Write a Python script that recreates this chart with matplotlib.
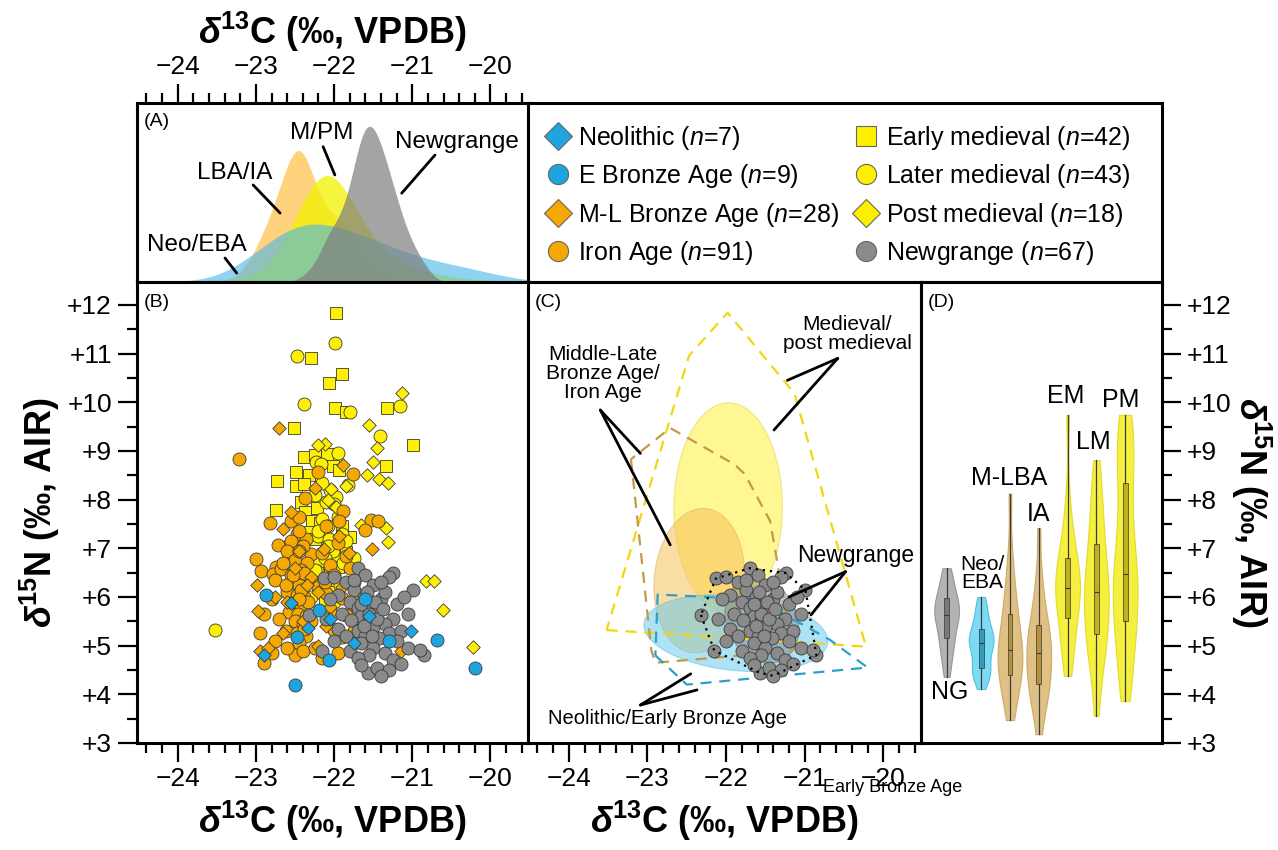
import numpy as np
import matplotlib
matplotlib.use("Agg")
import matplotlib.pyplot as plt
from matplotlib.patches import Ellipse
from matplotlib.lines import Line2D
from matplotlib.ticker import MultipleLocator, FuncFormatter

plt.rcParams['font.family'] = ['Liberation Sans', 'DejaVu Sans']
plt.rcParams['mathtext.fontset'] = 'custom'
plt.rcParams['mathtext.rm'] = 'Liberation Sans'
plt.rcParams['mathtext.it'] = 'Liberation Sans:italic'
plt.rcParams['mathtext.bf'] = 'Liberation Sans:bold'
plt.rcParams['mathtext.bfit'] = 'Liberation Sans:italic:bold'

# ---- data: d13C / d15N per group ----
neo_x = [-22.55, -22.33, -21.02, -22.90, -22.05, -21.55, -21.75]
neo_y = [5.87, 5.36, 5.30, 4.80, 5.55, 5.60, 5.05]

eba_x = [-22.87, -22.19, -22.50, -20.20, -20.68, -22.06, -22.47, -21.60, -21.30]
eba_y = [6.05, 5.73, 4.20, 4.55, 5.12, 4.70, 5.18, 5.95, 5.10]

mlba_x = [-22.71, -21.89, -22.25, -22.65, -21.94, -22.13, -21.81, -21.51, -22.99, -22.97,
          -21.15, -22.95, -22.85, -22.50, -22.30, -22.60, -22.40, -22.20, -22.75, -22.10,
          -21.90, -22.45, -22.55, -22.35, -22.05, -22.65, -22.20, -21.70]
mlba_y = [9.47, 8.72, 8.23, 7.39, 7.25, 6.98, 6.91, 6.98, 6.24, 5.72,
          4.90, 4.90, 4.95, 6.60, 6.40, 5.90, 5.50, 6.10, 6.00, 5.40,
          6.20, 6.95, 7.75, 6.25, 5.80, 5.25, 5.00, 5.75]

ia_x = [-23.21, -22.21, -21.76, -22.37, -21.88, -21.94, -22.82, -22.55, -21.53, -21.44,
        -21.61, -22.48, -22.36, -22.72, -22.42, -22.58, -22.29, -23.00, -22.74, -22.93,
        -22.78, -22.68,
        -22.45, -22.10, -22.55,
        -22.40, -21.95, -22.60, -22.15,
        -22.50, -22.35, -22.05, -22.65, -22.42, -21.80,
        -22.55, -22.40, -22.30, -22.00, -22.75, -22.45, -21.75, -22.20,
        -22.60, -22.48, -22.38, -22.10, -21.90, -22.80, -22.52, -21.70, -22.42, -22.33,
        -22.58, -22.46, -22.36, -22.05, -22.70, -21.85, -22.50, -22.40, -22.90, -21.65,
        -22.62, -22.48, -22.36, -22.00, -22.75, -21.90, -22.45, -22.95, -21.75,
        -22.80, -22.50, -22.40, -22.15, -22.90, -21.95, -22.60,
        -22.45, -22.38, -22.42, -22.30, -22.45, -22.12, -22.62, -22.38, -22.52, -21.85,
        -22.45, -22.25]
ia_y = [8.83, 8.56, 8.52, 8.04, 7.77, 7.56, 7.51, 7.56, 7.58, 7.56,
        7.37, 7.29, 7.20, 7.07, 7.00, 6.86, 6.89, 6.79, 6.62, 6.54,
        6.47, 6.57,
        7.35, 7.45, 7.15,
        7.05, 7.10, 6.95, 6.90,
        6.75, 6.70, 6.65, 6.70, 6.55, 6.60,
        6.45, 6.40, 6.35, 6.45, 6.35, 6.25, 6.30, 6.20,
        6.10, 6.05, 6.00, 6.08, 5.98, 5.95, 5.88, 6.05, 5.80, 5.90,
        5.70, 5.65, 5.60, 5.72, 5.55, 5.62, 5.50, 5.45, 5.65, 5.55,
        5.30, 5.25, 5.20, 5.32, 5.10, 5.18, 5.05, 5.25, 5.30,
        4.85, 4.80, 4.90, 4.75, 4.65, 4.85, 4.95,
        6.95, 6.50, 6.15, 5.50, 5.95, 6.30, 6.25, 5.35, 6.45, 6.85,
        7.65, 4.95]

em_x = [-21.98, -22.29, -21.90, -22.07, -21.99, -21.85, -21.32, -22.51, -20.99, -22.38,
        -22.24, -22.09, -21.34, -22.02, -21.94, -22.49, -22.32, -22.73, -22.49, -22.39,
        -22.42, -22.22, -22.37, -22.74, -22.28, -22.15, -22.31, -21.80,
        -22.10, -22.00, -22.20, -21.95, -22.08, -22.25, -22.02, -21.85, -22.15, -22.05,
        -21.90, -22.18, -22.05, -22.12]
em_y = [11.84, 10.91, 10.59, 10.39, 9.89, 9.80, 9.89, 9.47, 9.12, 8.87,
        8.91, 8.93, 8.69, 8.69, 8.61, 8.56, 8.50, 8.39, 8.28, 8.32,
        7.95, 7.82, 7.75, 7.78, 7.56, 7.42, 7.34, 7.24,
        7.02, 6.80, 6.70, 6.62, 6.30, 7.20, 7.10, 6.92, 6.50, 6.10,
        7.45, 7.52, 6.45, 5.92]

lm_x = [-21.99, -22.47, -22.39, -21.80, -21.16, -21.41, -22.21, -22.06, -22.58, -22.22,
        -23.52, -22.23, -22.17, -21.82,
        -22.05, -21.98, -22.10, -22.00, -22.15, -21.95, -22.08, -21.90, -22.20, -22.02,
        -22.12, -21.88, -22.25, -22.05, -21.92, -22.18, -22.30, -22.00, -22.10, -22.35,
        -21.80, -22.40, -22.00, -21.75, -22.15, -21.95, -22.25, -21.85, -22.08]
lm_y = [11.22, 10.96, 9.96, 9.80, 9.93, 9.30, 7.25, 7.20, 7.07, 6.54,
        5.32, 8.78, 8.74, 8.30,
        8.20, 8.05, 7.95, 7.90, 7.60, 7.65, 7.45, 7.30, 7.35, 6.95,
        6.80, 6.70, 6.55, 6.40, 6.25, 6.15, 6.00, 5.90, 5.70, 5.50,
        5.60, 5.80, 5.35, 6.80, 8.35, 8.95, 8.10, 7.15, 7.05]

pm_x = [-21.13, -21.55, -22.11, -22.21, -21.45, -21.50, -21.58, -21.43, -21.31, -21.85,
        -22.04, -22.08, -21.97, -21.65, -21.34, -21.31, -20.82, -20.72, -20.61, -20.22]
pm_y = [10.18, 9.54, 9.15, 9.12, 9.05, 8.78, 8.51, 8.42, 8.35, 8.28,
        8.21, 8.00, 7.85, 7.48, 7.42, 7.13, 6.33, 6.33, 5.73, 4.98]

ng_x = [-22.13, -22.00, -21.70, -21.60, -21.24, -21.30, -21.85, -21.50, -20.99, -21.75,
        -21.95, -21.62, -21.40, -21.20, -21.80, -22.05, -21.55, -21.35, -21.10, -21.70,
        -22.32, -21.90, -21.65, -21.45, -21.25, -21.05, -21.78, -21.55, -22.10, -21.35,
        -21.95, -21.70, -21.50, -21.30, -21.60, -21.85, -21.15, -22.00, -21.42, -21.20,
        -21.65, -21.50, -21.80, -21.35, -21.55, -21.05, -20.85, -20.90, -21.70, -21.25,
        -21.57, -21.45, -21.65, -21.30, -21.40, -22.15, -21.15,
        -21.55, -21.48, -21.62, -21.75, -21.40, -21.58, -21.65, -21.45, -21.52, -21.38]
ng_y = [6.38, 6.40, 6.59, 6.45, 6.49, 6.42, 6.30, 6.25, 6.14, 6.15,
        6.05, 6.00, 5.95, 5.85, 5.90, 5.95, 5.82, 6.10, 6.00, 5.78,
        5.63, 5.65, 5.60, 5.70, 5.55, 5.65, 5.52, 5.50, 5.55, 5.45,
        5.35, 5.30, 5.38, 5.25, 5.20, 5.20, 5.30, 5.10, 5.15, 5.10,
        5.05, 4.95, 4.90, 4.85, 4.80, 4.95, 4.81, 4.92, 4.75, 4.70,
        4.44, 4.55, 4.60, 4.50, 4.38, 4.90, 4.62,
        5.65, 5.90, 5.40, 6.35, 6.30, 6.10, 5.85, 5.55, 5.20, 5.75]

# ---- panel D: d15N samples behind each violin ----
viol_labels = ["NG", "Neo/\nEBA", "M-LBA", "IA", "EM", "LM", "PM"]
viol_pos = [0, 1.2, 2.2, 3.2, 4.2, 5.2, 6.2]
viol_ng = [4.36, 4.60, 4.80, 4.95, 5.05, 5.16, 5.30, 5.40, 5.50, 5.58, 5.63,
           5.70, 5.75, 5.80, 5.90, 5.98, 6.05, 6.15, 6.30, 6.45, 6.59]
viol_neo = [4.11, 4.30, 4.40, 4.45, 4.50, 4.55, 4.70, 4.85, 4.95, 5.00, 5.06,
            5.10, 5.15, 5.20, 5.28, 5.34, 5.45, 5.60, 5.70, 5.85, 6.00]
viol_mlba = [3.47, 3.80, 4.00, 4.15, 4.30, 4.40, 4.55, 4.65, 4.75, 4.85, 4.92,
             5.00, 5.15, 5.30, 5.50, 5.66, 5.85, 6.10, 6.40, 6.90, 8.12]
viol_ia = [3.18, 3.60, 3.85, 4.00, 4.10, 4.21, 4.35, 4.50, 4.60, 4.75, 4.85,
           4.95, 5.05, 5.15, 5.30, 5.42, 5.60, 5.80, 6.10, 6.50, 7.41]
viol_em = [4.38, 4.70, 4.95, 5.15, 5.35, 5.57, 5.75, 5.90, 6.00, 6.10, 6.19,
           6.28, 6.38, 6.48, 6.60, 6.81, 6.95, 7.15, 7.45, 8.00, 9.74]
viol_lm = [3.56, 4.30, 4.70, 4.90, 5.05, 5.23, 5.45, 5.65, 5.80, 5.95, 6.11,
           6.25, 6.40, 6.55, 6.80, 7.09, 7.30, 7.60, 7.95, 8.30, 8.81]
viol_pm = [3.86, 4.30, 4.70, 5.00, 5.30, 5.51, 5.75, 6.00, 6.20, 6.35, 6.48,
           6.70, 7.00, 7.40, 7.90, 8.35, 8.70, 9.00, 9.30, 9.55, 9.74]

BLUE, ORANGE, YELLOW, GREY = "#1ea5e0", "#f5a900", "#fff000", "#8a8a8a"
XLIM = (-24.52, -19.52)
YLIM = (3, 12.47)


def kde(vals, grid, adjust=1.0):
    vals = np.asarray(vals)
    bw = vals.std(ddof=1) * len(vals) ** (-1 / 5) * adjust
    z = (grid[:, None] - vals[None, :]) / bw
    return np.exp(-0.5 * z ** 2).sum(axis=1) / (len(vals) * bw * np.sqrt(2 * np.pi))


def convex_hull(xs, ys):
    pts = sorted(set(zip(xs, ys)))

    def cross(o, a, b):
        return (a[0] - o[0]) * (b[1] - o[1]) - (a[1] - o[1]) * (b[0] - o[0])

    lower, upper = [], []
    for p in pts:
        while len(lower) >= 2 and cross(lower[-2], lower[-1], p) <= 0:
            lower.pop()
        lower.append(p)
    for p in reversed(pts):
        while len(upper) >= 2 and cross(upper[-2], upper[-1], p) <= 0:
            upper.pop()
        upper.append(p)
    h = lower[:-1] + upper[:-1]
    h.append(h[0])
    return np.array(h)


def cov_ellipse(xs, ys, n_std, **kw):
    vals, vecs = np.linalg.eigh(np.cov(xs, ys))
    order = vals.argsort()[::-1]
    vals, vecs = vals[order], vecs[:, order]
    angle = np.degrees(np.arctan2(vecs[1, 0], vecs[0, 0]))
    w, h = 2 * n_std * np.sqrt(vals)
    return Ellipse((np.mean(xs), np.mean(ys)), w, h, angle=angle, **kw)


def style_spines(ax):
    for s in ax.spines.values():
        s.set_linewidth(2.2)


fig = plt.figure(figsize=(12.78, 8.5), dpi=100)


def box(l, t, r, b):
    return [l / 1278, 1 - b / 850, (r - l) / 1278, (b - t) / 850]


axA = fig.add_axes(box(137, 103, 528, 282))
axL = fig.add_axes(box(528, 103, 1162, 282))
axB = fig.add_axes(box(137, 282, 528, 743))
axC = fig.add_axes(box(528, 282, 921, 743))
axD = fig.add_axes(box(921, 282, 1162, 743))
for ax in (axA, axL, axB, axC, axD):
    style_spines(ax)

xlab = r"$\mathbfit{\delta}^{\mathbf{13}}$C (‰, VPDB)"
ylab = r"$\mathbfit{\delta}^{\mathbf{15}}$N (‰, AIR)"
plus_fmt = FuncFormatter(lambda v, p: f"+{v:g}")


def x_ticks(ax, top=False):
    ax.set_xlim(*XLIM)
    ax.xaxis.set_major_locator(MultipleLocator(1))
    ax.xaxis.set_minor_locator(MultipleLocator(0.2))
    ax.tick_params(axis='x', which='major', length=14, width=1.6, labelsize=19, pad=3,
                   top=top, bottom=not top, labeltop=top, labelbottom=not top)
    ax.tick_params(axis='x', which='minor', length=7, width=1.6, top=top, bottom=not top)


def y_ticks(ax, right=False):
    ax.set_ylim(*YLIM)
    ax.yaxis.set_major_locator(MultipleLocator(1))
    ax.yaxis.set_minor_locator(MultipleLocator(0.5))
    ax.yaxis.set_major_formatter(plus_fmt)
    ax.tick_params(axis='y', which='major', length=14, width=1.6, labelsize=19, pad=4,
                   left=not right, right=right, labelleft=not right, labelright=right)
    ax.tick_params(axis='y', which='minor', length=7, width=1.6, left=not right, right=right)


# ---- panel A: d13C densities ----
grid = np.linspace(XLIM[0], XLIM[1], 600)
dens_lia = kde(mlba_x + ia_x, grid, 1.15)
dens_mpm = kde(em_x + lm_x + pm_x, grid, 1.8)
dens_neo = kde(neo_x + eba_x, grid, 1.0)
dens_ng = kde(ng_x, grid, 0.9)
axA.fill_between(grid, dens_lia, color="#ffb526", alpha=0.6, lw=0)
axA.fill_between(grid, dens_mpm, color="#f2f200", alpha=0.75, lw=0)
axA.fill_between(grid, dens_neo, color="#46b6e8", alpha=0.6, lw=0)
axA.fill_between(grid, dens_ng, color="#7e7e7e", alpha=0.7, lw=0)
axA.set_ylim(0, dens_ng.max() / 0.87)
x_ticks(axA, top=True)
axA.set_yticks([])
axA.xaxis.set_label_position('top')
axA.set_xlabel(xlab, fontsize=26, fontweight='bold', labelpad=8)

line_kw = dict(arrowprops=dict(arrowstyle='-', lw=2, color='black', shrinkA=0, shrinkB=0))
for txt, tpos, start, end in [
        ("M/PM", (0.472, 0.830), (0.476, 0.756), (0.506, 0.598)),
        ("LBA/IA", (0.251, 0.609), (0.297, 0.542), (0.366, 0.385)),
        ("Newgrange", (0.818, 0.784), (0.762, 0.709), (0.677, 0.496)),
        ("Neo/EBA", (0.153, 0.207), (0.225, 0.134), (0.255, 0.050))]:
    axA.text(*tpos, txt, transform=axA.transAxes, ha='center', va='center', fontsize=17.5)
    axA.annotate("", xy=end, xytext=start, xycoords='axes fraction', **line_kw)
axA.text(0.016, 0.945, "(A)", transform=axA.transAxes, ha='left', va='top', fontsize=14)

# ---- legend box ----
axL.set_xticks([])
axL.set_yticks([])
legend_items = [
    ("D", 14, BLUE, r"Neolithic ($\it{n}$=7)"),
    ("o", 14.5, BLUE, r"E Bronze Age ($\it{n}$=9)"),
    ("D", 14, ORANGE, r"M-L Bronze Age ($\it{n}$=28)"),
    ("o", 14.5, ORANGE, r"Iron Age ($\it{n}$=91)"),
    ("s", 14, YELLOW, r"Early medieval ($\it{n}$=42)"),
    ("o", 14.5, YELLOW, r"Later medieval ($\it{n}$=43)"),
    ("D", 14, YELLOW, r"Post medieval ($\it{n}$=18)"),
    ("o", 14.5, GREY, r"Newgrange ($\it{n}$=67)"),
]
handles = [Line2D([], [], ls='none', marker=m, ms=ms, mfc=c, mec='#666666', mew=0.8, label=l)
           for m, ms, c, l in legend_items]
axL.legend(handles=handles, ncol=2, loc='upper left', bbox_to_anchor=(0.0276, 0.885),
           frameon=False, fontsize=18, handlelength=1.0, handletextpad=0.3,
           columnspacing=0.58, labelspacing=0.42, borderpad=0, borderaxespad=0)

# ---- panel B: scatter ----
sc_kw = dict(edgecolors='#3a3a3a', linewidths=0.6, zorder=3)
axB.scatter(em_x, em_y, s=74, marker='s', c=YELLOW, **sc_kw)
axB.scatter(lm_x, lm_y, s=88, marker='o', c=YELLOW, **sc_kw)
axB.scatter(pm_x, pm_y, s=47, marker='D', c=YELLOW, **sc_kw)
axB.scatter(ia_x, ia_y, s=88, marker='o', c=ORANGE, **sc_kw)
axB.scatter(mlba_x, mlba_y, s=47, marker='D', c=ORANGE, **sc_kw)
axB.scatter(ng_x, ng_y, s=88, marker='o', c=GREY, **sc_kw)
axB.scatter(neo_x, neo_y, s=47, marker='D', c=BLUE, **sc_kw)
axB.scatter(eba_x, eba_y, s=88, marker='o', c=BLUE, **sc_kw)
x_ticks(axB)
y_ticks(axB)
axB.set_xlabel(xlab, fontsize=26, fontweight='bold', labelpad=6)
axB.set_ylabel(ylab, fontsize=26, fontweight='bold', labelpad=4)
axB.text(0.016, 0.975, "(B)", transform=axB.transAxes, ha='left', va='top', fontsize=14)

# ---- panel C: ellipses + hulls ----
med_x, med_y = em_x + lm_x + pm_x, em_y + lm_y + pm_y
lia_x, lia_y = mlba_x + ia_x, mlba_y + ia_y
ne_x, ne_y = neo_x + eba_x, neo_y + eba_y
N_STD = 1.5
axC.add_patch(cov_ellipse(med_x, med_y, N_STD, fc="#fff34d", ec="#e6d84a", alpha=0.6, lw=0.8))
axC.add_patch(cov_ellipse(lia_x, lia_y, N_STD, fc="#f7c15a", ec="#e0b060", alpha=0.55, lw=0.8))
axC.add_patch(cov_ellipse(ne_x, ne_y, N_STD, fc="#5ec8ef", ec="#5ab8e0", alpha=0.5, lw=0.8))
axC.add_patch(cov_ellipse(ng_x, ng_y, N_STD, fc="#7a7a7a", ec="#707070", alpha=0.45, lw=0.8))
for hx, hy, col, dash in [(med_x, med_y, "#f2d70f", (5, 3.5)),
                           (lia_x, lia_y, "#c49a45", (5, 3.5)),
                           (ne_x, ne_y, "#2aa0c8", (5, 3.5))]:
    h = convex_hull(hx, hy)
    axC.plot(h[:, 0], h[:, 1], color=col, lw=1.6, dashes=dash, zorder=2)
axC.scatter(ng_x, ng_y, s=88, marker='o', c=GREY, **sc_kw)
h = convex_hull(ng_x, ng_y)
axC.plot(h[:, 0], h[:, 1], color='black', lw=1.6, dashes=(1, 2.2), zorder=4)
x_ticks(axC)
axC.set_ylim(*YLIM)
axC.set_yticks([])
axC.set_xlabel(xlab, fontsize=26, fontweight='bold', labelpad=6)
axC.text(0.016, 0.975, "(C)", transform=axC.transAxes, ha='left', va='top', fontsize=14)

c_notes = [
    ("Medieval/\npost medieval", (-20.46, 11.40), (-20.58, 10.90), [(-21.22, 10.45), (-21.39, 9.43)], 15),
    ("Middle-Late\nBronze Age/\nIron Age", (-23.57, 10.59), (-23.60, 9.84), [(-23.09, 8.95), (-22.71, 7.07)], 15),
    ("Newgrange", (-20.35, 6.86), (-20.48, 6.52), [(-21.20, 6.00), (-20.92, 5.63)], 16.5),
]
for txt, tpos, start, ends, fs in c_notes:
    axC.text(*tpos, txt, ha='center', va='center', fontsize=fs, linespacing=1.0, zorder=6)
    for e in ends:
        axC.annotate("", xy=e, xytext=start, zorder=6, **line_kw)
axC.text(-22.75, 3.50, "Neolithic/Early Bronze Age", ha='center', va='center', fontsize=14.5,
         family=['Liberation Sans Narrow', 'Liberation Sans'], zorder=6)
for e in [(-22.45, 4.42), (-22.37, 4.09)]:
    axC.annotate("", xy=e, xytext=(-23.09, 3.78), zorder=6, **line_kw)

# ---- panel D: violins ----
viol_data = [viol_ng, viol_neo, viol_mlba, viol_ia, viol_em, viol_lm, viol_pm]
viol_fc = ["#ababab", "#6fd6f2", "#dcbb78", "#dcbb78", "#f4ee2a", "#f4ee2a", "#f4ee2a"]
viol_ec = ["#909090", "#45bde0", "#c9a560", "#c9a560", "#e0d820", "#e0d820", "#e0d820"]
box_fc = ["#6e6e6e", "#1f93b8", "#b08a30", "#b08a30", "#b8a818", "#b8a818", "#b8a818"]
parts = axD.violinplot(viol_data, positions=viol_pos, widths=0.86, showextrema=False,
                       bw_method=0.42)
for body, fc, ec in zip(parts['bodies'], viol_fc, viol_ec):
    body.set_facecolor(fc)
    body.set_edgecolor(ec)
    body.set_alpha(0.9)
    body.set_linewidth(0.8)
bp = axD.boxplot(viol_data, positions=viol_pos, widths=0.17, whis=(0, 100), showcaps=False,
                 showfliers=False, patch_artist=True, manage_ticks=False)
for patch, fc in zip(bp['boxes'], box_fc):
    patch.set_facecolor(fc)
    patch.set_edgecolor('#3a3a3a')
    patch.set_linewidth(0.6)
    patch.set_alpha(0.85)
for w in bp['whiskers']:
    w.set_color('#3a3a3a')
    w.set_linewidth(0.9)
for m in bp['medians']:
    m.set_color('#3a3a3a')
    m.set_linewidth(0.8)
axD.set_xlim(-0.89, 7.48)
axD.set_xticks([])
y_ticks(axD, right=True)
axD.yaxis.set_label_position('right')
axD.set_ylabel(ylab, fontsize=26, fontweight='bold', rotation=270, labelpad=30)
axD.text(0.03, 0.975, "(D)", transform=axD.transAxes, ha='left', va='top', fontsize=14)
for lab, xp, yp, fs in [("NG", 0.1, 4.05, 18), ("Neo/\nEBA", 1.24, 6.48, 15),
                        ("M-LBA", 2.17, 8.44, 18), ("IA", 3.2, 7.71, 18),
                        ("EM", 4.12, 10.13, 18), ("LM", 5.11, 9.19, 18), ("PM", 6.04, 10.04, 18)]:
    axD.text(xp, yp, lab, ha='center', va='center', fontsize=fs, linespacing=0.95)

fig.text(893 / 1278, 1 - 787 / 850, "Early Bronze Age", ha='center', va='center', fontsize=13,
         family=['Liberation Sans Narrow', 'Liberation Sans'])

fig.savefig("out.png", dpi=100)
